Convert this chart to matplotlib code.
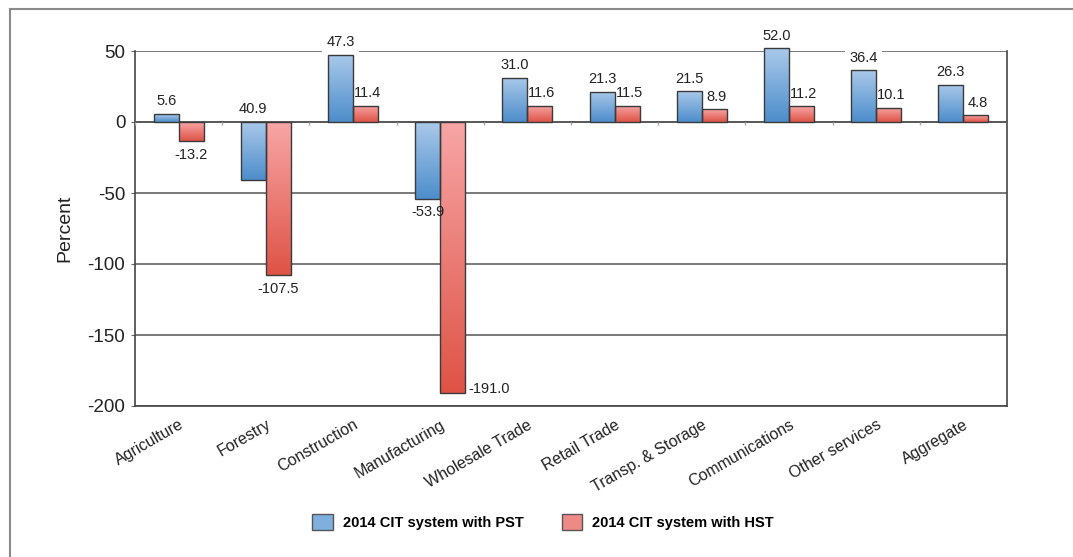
import numpy as np
import matplotlib
matplotlib.use("Agg")
import matplotlib.pyplot as plt
from matplotlib.colors import LinearSegmentedColormap
from matplotlib.patches import Patch
from matplotlib.lines import Line2D

FAM = ['Liberation Sans Narrow', 'Liberation Sans', 'DejaVu Sans']
plt.rcParams['font.family'] = FAM

categories = ["Agriculture", "Forestry", "Construction", "Manufacturing",
              "Wholesale Trade", "Retail Trade", "Transp. & Storage",
              "Communications", "Other services", "Aggregate"]
pst_values = [5.6, -40.9, 47.3, -53.9, 31.0, 21.3, 21.5, 52.0, 36.4, 26.3]
hst_values = [-13.2, -107.5, 11.4, -191.0, 11.6, 11.5, 8.9, 11.2, 10.1, 4.8]
pst_labels = ["5.6", "40.9", "47.3", "-53.9", "31.0", "21.3", "21.5", "52.0", "36.4", "26.3"]
hst_labels = ["-13.2", "-107.5", "11.4", "-191.0", "11.6", "11.5", "8.9", "11.2", "10.1", "4.8"]
series_names = ["2014 CIT system with PST", "2014 CIT system with HST"]
yticks = [50, 0, -50, -100, -150, -200]

blue_cmap = LinearSegmentedColormap.from_list("b", ["#4d8dcb", "#aac9ea"])
red_cmap = LinearSegmentedColormap.from_list("r", ["#de5346", "#f7a6a6"])

W, H = 1073, 557
fig = plt.figure(figsize=(W / 100, H / 100), dpi=100)
ax = fig.add_axes([135 / W, 1 - 406 / H, (1007 - 135) / W, (406 - 51) / H])

# outer frame (top and left lines)
fig.add_artist(Line2D([10 / W, 1.0], [1 - 9 / H, 1 - 9 / H], transform=fig.transFigure,
                      color="#8a8a8a", lw=1.5))
fig.add_artist(Line2D([10 / W, 10 / W], [0, 1 - 9 / H], transform=fig.transFigure,
                      color="#8a8a8a", lw=1.5))

x = np.arange(len(categories))
bw = 0.287
grad = np.linspace(0, 1, 256).reshape(-1, 1)


def draw_series(offset, vals, cmap):
    bars = ax.bar(x + offset, vals, width=bw, edgecolor="#3a3a3a", linewidth=1.0,
                  facecolor="none", zorder=3, clip_on=False)
    for b in bars:
        x0 = b.get_x()
        y0 = b.get_y()
        h = b.get_height()
        lo, hi = min(y0, y0 + h), max(y0, y0 + h)
        im = ax.imshow(grad, cmap=cmap, origin="lower", aspect="auto",
                       extent=[x0, x0 + b.get_width(), lo, hi], zorder=2.8,
                       interpolation="bilinear")
        im.set_clip_path(b)
    return bars


pst_bars = draw_series(-bw / 2, pst_values, blue_cmap)
hst_bars = draw_series(bw / 2, hst_values, red_cmap)

ax.set_xlim(-0.5, len(categories) - 0.5)
ax.set_ylim(-200, 50)

# grid
ax.set_axisbelow(True)
ax.yaxis.grid(True, color="#555555", lw=1.1)
ax.set_yticks(yticks)
ax.set_yticklabels([str(t) for t in yticks], fontsize=13.5, color="#222222")
ax.tick_params(axis="y", length=3, color="#666666", pad=4)
ax.axhline(0, color="#555555", lw=1.2, zorder=2.6)
# category separators on the zero line
ax.vlines(np.arange(len(categories) + 1) - 0.5, -2.2, 0, color="#aaaaaa", lw=1, zorder=2.6)

for s in ["left", "bottom", "right"]:
    ax.spines[s].set_color("#444444")
    ax.spines[s].set_linewidth(1.2)
ax.spines["top"].set_visible(False)

ax.set_xticks(x)
ax.set_xticklabels(categories, rotation=30, ha="right", rotation_mode="anchor",
                   fontsize=11.5, color="#222222")
ax.tick_params(axis="x", length=0, pad=8)
ax.set_ylabel("Percent", fontsize=14, color="#222222", labelpad=10)


def label_series(bars, vals, texts, dx, boxed, z):
    for b, v, t in zip(bars, vals, texts):
        cx = b.get_x() + b.get_width() / 2
        tv = float(t)
        if v < -180:
            ax.annotate(t, (b.get_x() + b.get_width(), v), xytext=(2, 3),
                        textcoords="offset points", ha="left", va="center",
                        fontsize=10.5, color="#222222", zorder=z, annotation_clip=False)
        elif tv >= 0:
            kw = {}
            if boxed:
                kw["bbox"] = dict(boxstyle="square,pad=0.3", fc="white", ec="none")
            ax.annotate(t, (cx, max(v, 0)), xytext=(dx, 4), textcoords="offset points",
                        ha="center", va="bottom", fontsize=10.5, color="#222222", zorder=z,
                        annotation_clip=False, **kw)
        else:
            ax.annotate(t, (cx, v), xytext=(0, -5), textcoords="offset points",
                        ha="center", va="top", fontsize=10.5, color="#222222", zorder=z,
                        annotation_clip=False)


label_series(pst_bars, pst_values, pst_labels, 0, True, 5)
label_series(hst_bars, hst_values, hst_labels, 1.5, False, 6)

handles = [Patch(facecolor="#7fb0dd", edgecolor="#555555"),
           Patch(facecolor="#ee8a86", edgecolor="#555555")]
leg = fig.legend(handles, series_names, loc="center", bbox_to_anchor=(543 / W, 1 - 522 / H),
                 ncol=2, frameon=False, handlelength=1.4, handleheight=1.4,
                 columnspacing=2.6, handletextpad=0.7,
                 prop={"weight": "bold", "size": 10.5, "family": FAM})

fig.savefig("out.png", dpi=100)
